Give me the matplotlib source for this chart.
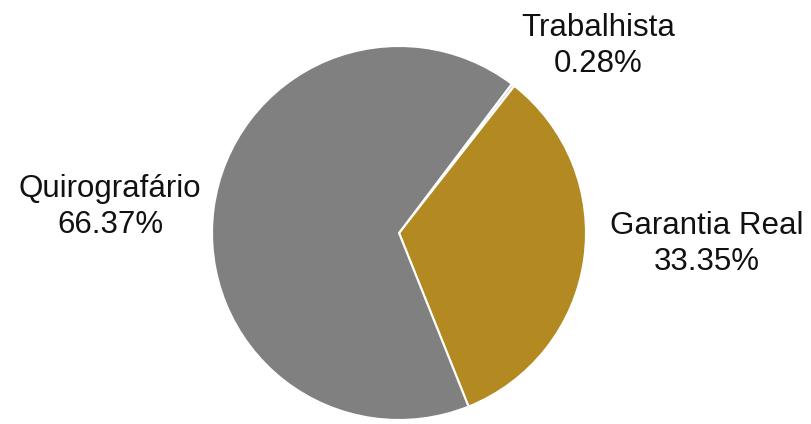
import matplotlib.pyplot as plt

labels = ['Trabalhista', 'Garantia Real', 'Quirografário']
shares = [0.28, 33.35, 66.37]
colors = ['#D0D0D0', '#B38A22', '#808080']
label_pos = [(598, 46), (707, 244), (110, 207)]  # pixel centres of the labels

plt.rcParams['font.family'] = ['Liberation Sans', 'DejaVu Sans']

W, H = 811, 424
fig = plt.figure(figsize=(W / 100, H / 100), dpi=100)
cx, cy, r = 399, 233, 187
ax = fig.add_axes([(cx - r) / W, (H - cy - r) / H, 2 * r / W, 2 * r / H])

ax.pie(shares, colors=colors, startangle=52.9, counterclock=False,
       wedgeprops=dict(edgecolor='white', linewidth=1.5))
ax.set_xlim(-1, 1)
ax.set_ylim(-1, 1)
ax.set_aspect('equal')

for lab, val, (px, py) in zip(labels, shares, label_pos):
    fig.text(px / W, 1 - py / H, f'{lab}\n{val:.2f}%', ha='center', va='center',
             fontsize=22.5, color='#111111', linespacing=1.25)

fig.savefig('out.png', dpi=100)
